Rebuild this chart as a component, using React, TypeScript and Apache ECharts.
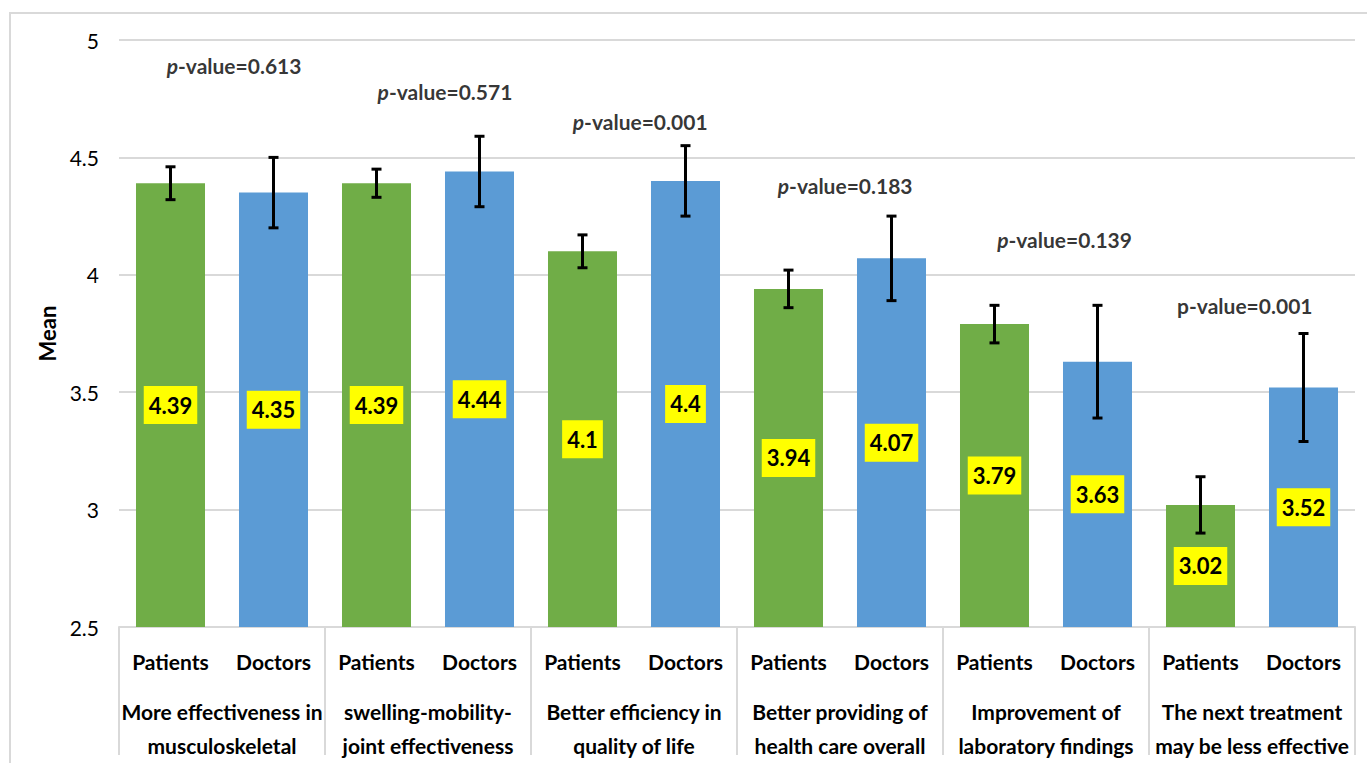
import React, { useEffect, useRef } from "react";
import * as echarts from "echarts";

const groups = [
  "More effectiveness in\nmusculoskeletal",
  "swelling-mobility-\njoint effectiveness",
  "Better efficiency in\nquality of life",
  "Better providing of\nhealth care overall",
  "Improvement of\nlaboratory findings",
  "The next treatment\nmay be less effective",
];
const roles = ["Patients", "Doctors"];
const patientsMean = [4.39, 4.39, 4.1, 3.94, 3.79, 3.02];
const doctorsMean = [4.35, 4.44, 4.4, 4.07, 3.63, 3.52];
const patientsErr = [0.07, 0.06, 0.07, 0.08, 0.08, 0.12];
const doctorsErr = [0.15, 0.15, 0.15, 0.18, 0.24, 0.23];
const pValues = ["0.613", "0.571", "0.001", "0.183", "0.139", "0.001"];
const pItalic = [true, true, true, true, true, false];
const pLabelX = [1.117, 3.165, 5.06, 7.05, 9.18, 10.93];
const pLabelY = [4.89, 4.78, 4.655, 4.38, 4.15, 3.87];
const yTicks = { min: 2.5, max: 5, interval: 0.5 };

const GREEN = "#70AD47";
const BLUE = "#5B9BD5";
const FONT = "Lato";

export default function App() {
  const ref = useRef<HTMLDivElement>(null);
  useEffect(() => {
    if (!ref.current) return;
    const chart = echarts.init(ref.current, undefined, { renderer: "svg" });

    const cats: string[] = [];
    const bars: any[] = [];
    const errs: number[][] = [];
    groups.forEach((_, g) => {
      const vals = [patientsMean[g], doctorsMean[g]];
      const es = [patientsErr[g], doctorsErr[g]];
      roles.forEach((r, k) => {
        const idx = cats.length;
        cats.push(r);
        bars.push({ value: vals[k], itemStyle: { color: k === 0 ? GREEN : BLUE } });
        errs.push([idx, vals[k] - es[k], vals[k] + es[k]]);
      });
    });

    const pData = pValues.map((p, i) => ({
      value: [pLabelX[i], pLabelY[i]],
      label: {
        formatter: pItalic[i] ? `{i|p}{n|-value=${p}}` : `{n|p-value=${p}}`,
      },
    }));

    chart.setOption({
      animation: false,
      textStyle: { fontFamily: FONT },
      graphic: [
        {
          type: "rect",
          shape: { x: 10, y: 13, width: 1400, height: 800 },
          style: { fill: "none", stroke: "#d9d9d9", lineWidth: 2 },
          silent: true,
        },
      ],
      grid: { left: 119, right: 12, top: 40, bottom: 136, containLabel: false },
      xAxis: [
        {
          type: "category",
          data: cats,
          position: "bottom",
          axisLine: { show: true, lineStyle: { color: "#d9d9d9", width: 2 } },
          axisTick: { show: false },
          axisLabel: {
            interval: 0,
            margin: 22,
            fontSize: 21,
            fontWeight: "bold",
            color: "#000",
            fontFamily: FONT,
            lineHeight: 24,
          },
        },
        {
          type: "category",
          data: groups,
          position: "bottom",
          offset: 0,
          axisLine: { show: false },
          axisTick: {
            show: true,
            length: 128,
            lineStyle: { color: "#d9d9d9", width: 2 },
          },
          axisLabel: {
            interval: 0,
            margin: 67,
            fontSize: 21,
            fontWeight: "bold",
            color: "#000",
            fontFamily: FONT,
            lineHeight: 34,
          },
        },
        { type: "value", min: 0, max: 12, show: false },
      ],
      yAxis: {
        type: "value",
        min: yTicks.min,
        max: yTicks.max,
        interval: yTicks.interval,
        name: "Mean",
        nameLocation: "middle",
        nameGap: 58,
        nameTextStyle: { fontSize: 22, fontWeight: "bold", color: "#000", fontFamily: FONT },
        axisLine: { show: false },
        axisTick: { show: false },
        axisLabel: { fontSize: 21, color: "#000", margin: 20, fontFamily: FONT },
        splitLine: { lineStyle: { color: "#d9d9d9", width: 2 } },
      },
      series: [
        {
          type: "bar",
          xAxisIndex: 0,
          data: bars,
          barWidth: "67%",
          label: {
            show: true,
            position: "inside",
            backgroundColor: "#FFFF00",
            padding: [9, 5, 7, 5],
            color: "#000",
            fontWeight: "bold",
            fontSize: 22,
            fontFamily: FONT,
            lineHeight: 22,
          },
        },
        {
          type: "custom",
          xAxisIndex: 0,
          data: errs,
          encode: { x: 0, y: [1, 2] },
          z: 5,
          renderItem: (params: any, api: any) => {
            const x = api.value(0);
            const lo = api.coord([x, api.value(1)]);
            const hi = api.coord([x, api.value(2)]);
            const cap = 5;
            const st = { stroke: "#000", lineWidth: 3 };
            return {
              type: "group",
              children: [
                { type: "line", shape: { x1: lo[0], y1: lo[1], x2: hi[0], y2: hi[1] }, style: st },
                { type: "line", shape: { x1: lo[0] - cap, y1: lo[1], x2: lo[0] + cap, y2: lo[1] }, style: st },
                { type: "line", shape: { x1: hi[0] - cap, y1: hi[1], x2: hi[0] + cap, y2: hi[1] }, style: st },
              ],
            };
          },
        },
        {
          type: "scatter",
          xAxisIndex: 2,
          data: pData,
          symbolSize: 0,
          silent: true,
          label: {
            show: true,
            position: "inside",
            rich: {
              i: { fontSize: 21, fontWeight: "bold", fontStyle: "italic", color: "#000", fontFamily: FONT },
              n: { fontSize: 21, fontWeight: "bold", color: "#000", fontFamily: FONT },
            },
          },
        },
      ],
    });
    return () => chart.dispose();
  }, []);
  return (
    <div
      ref={ref}
      style={{ position: "fixed", left: 0, top: 0, width: 1367, height: 763, background: "#fff" }}
    />
  );
}
